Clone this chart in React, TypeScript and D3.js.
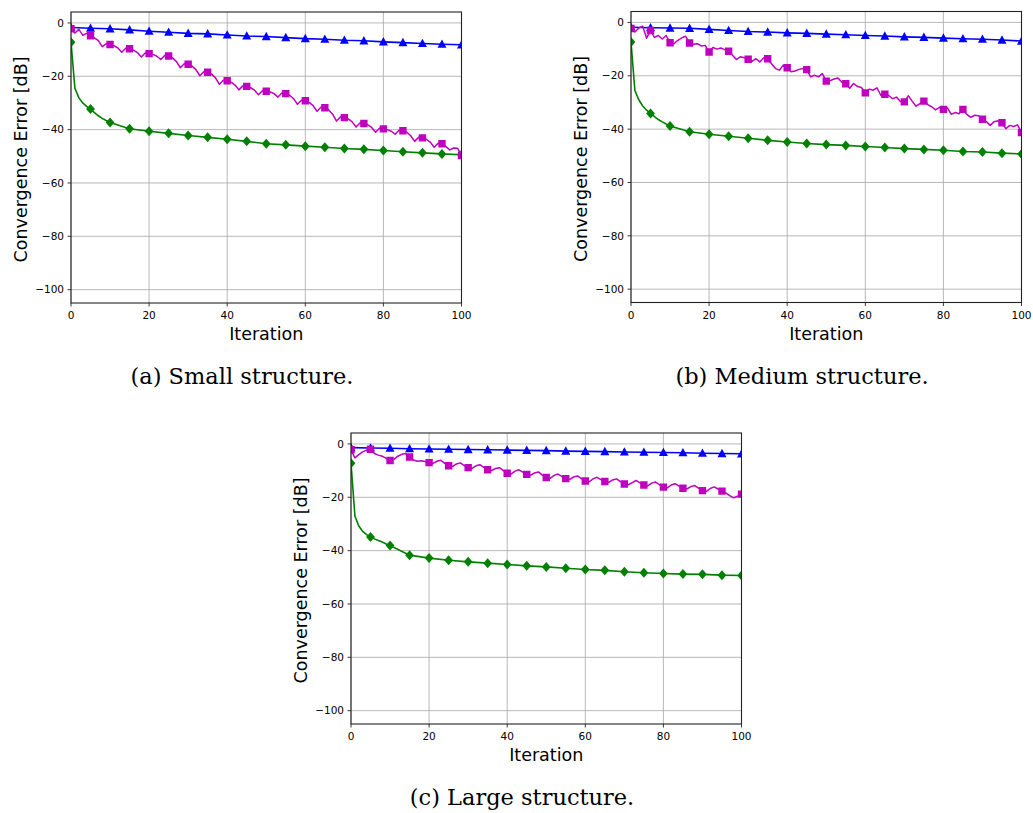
import React from 'react';
import * as d3 from 'd3';

// ---------- data ----------
const xTicks = [0, 20, 40, 60, 80, 100];
const yTicks = [-100, -80, -60, -40, -20, 0];
const markerIters = d3.range(0, 101, 5);
const lineIters = d3.range(0, 101);
const headIters = d3.range(0, 11);

// blue (triangles) – values at iterations 0,5,...,100
const blueA = [-1.7, -2.0, -2.2, -2.6, -3.1, -3.5, -3.9, -4.1, -4.5, -4.9, -5.1, -5.5, -5.9, -6.1, -6.5, -6.7, -7.1, -7.4, -7.7, -8.0, -8.2];
const blueB = [-1.8, -2.0, -2.1, -2.2, -2.6, -3.0, -3.4, -3.6, -3.9, -4.1, -4.4, -4.6, -4.9, -5.1, -5.4, -5.6, -5.9, -6.1, -6.3, -6.6, -7.0];
const blueC = [-1.4, -1.5, -1.6, -1.8, -1.9, -2.0, -2.1, -2.2, -2.3, -2.4, -2.5, -2.7, -2.8, -2.9, -3.0, -3.1, -3.2, -3.3, -3.5, -3.6, -3.7];

// green (diamonds) – values at iterations 0,5,...,100
const greenA = [-7.2, -32.3, -37.3, -39.7, -40.6, -41.4, -42.2, -42.9, -43.6, -44.4, -45.3, -45.7, -46.2, -46.6, -47.1, -47.4, -47.8, -48.3, -48.7, -49.1, -49.4];
const greenB = [-7.3, -34.1, -38.8, -41.0, -41.9, -42.7, -43.4, -44.2, -44.8, -45.4, -45.8, -46.1, -46.5, -46.9, -47.3, -47.6, -47.9, -48.4, -48.6, -49.0, -49.3];
const greenC = [-7.2, -34.9, -38.1, -41.7, -42.8, -43.6, -44.2, -44.7, -45.2, -45.7, -46.1, -46.6, -47.1, -47.4, -47.9, -48.3, -48.6, -48.8, -48.9, -49.2, -49.3];
// green line, iterations 0..10
const greenHeadA = [-7.2, -24.5, -28.0, -30.0, -31.3, -32.3, -33.6, -34.8, -35.8, -36.6, -37.3];
const greenHeadB = [-7.3, -25.5, -29.0, -31.3, -32.9, -34.1, -35.3, -36.4, -37.3, -38.1, -38.8];
const greenHeadC = [-7.2, -27.0, -30.8, -32.8, -34.0, -34.9, -35.6, -36.2, -36.8, -37.5, -38.1];

// magenta (squares) – values at every iteration 0..100
const magentaA = [
  -2.2, -3.8, -2.4, -4.6, -3.9, -4.8, -5.6, -6.6, -8.9, -7.8, -8.1,
  -8.5, -9.4, -11.0, -9.5, -9.7, -10.2, -11.1, -12.8, -11.3, -11.5,
  -11.8, -12.5, -13.7, -12.2, -12.4, -13.1, -14.5, -16.8, -15.3, -15.5,
  -16.2, -17.5, -19.8, -18.3, -18.5, -19.2, -20.6, -23.0, -21.5, -21.7,
  -22.2, -23.3, -25.1, -23.6, -23.8, -24.3, -25.2, -26.9, -25.4, -25.6,
  -25.9, -26.5, -27.8, -26.3, -26.5, -27.1, -28.4, -30.5, -29.0, -29.2,
  -29.8, -31.0, -33.1, -31.6, -31.8, -32.6, -34.2, -36.8, -35.3, -35.5,
  -36.0, -37.1, -39.0, -37.5, -37.7, -38.2, -39.2, -41.0, -39.5, -39.7,
  -40.0, -40.6, -41.7, -40.2, -40.4, -41.0, -42.3, -44.4, -42.9, -43.1,
  -43.6, -44.7, -46.6, -45.1, -45.3, -46.4, -47.6, -46.9, -47.0, -49.7,
];
const magentaB = [
  -2.3, -3.6, -2.1, -1.4, -5.9, -3.0, -5.6, -4.9, -6.2, -4.9, -7.6,
  -8.0, -6.7, -5.8, -5.2, -7.7, -8.2, -8.0, -8.8, -8.6, -11.1,
  -9.4, -10.0, -9.6, -10.2, -10.8, -12.3, -13.9, -12.9, -13.2, -13.8,
  -14.6, -13.6, -14.8, -13.2, -13.6, -15.5, -17.3, -17.9, -16.0, -17.0,
  -18.5, -18.2, -17.6, -17.3, -17.7, -20.4, -19.8, -20.4, -19.2, -22.0,
  -21.8, -21.2, -20.8, -22.4, -23.0, -24.7, -22.9, -24.0, -24.4, -26.4,
  -25.0, -25.4, -24.5, -27.4, -26.9, -27.4, -28.6, -28.0, -29.6, -29.8,
  -27.5, -29.5, -31.4, -30.4, -29.5, -30.8, -31.6, -32.8, -31.8, -32.6,
  -32.0, -34.4, -33.8, -34.2, -32.6, -34.5, -35.6, -34.8, -35.0, -36.3,
  -37.2, -38.6, -37.2, -36.9, -37.6, -39.8, -38.6, -39.0, -38.4, -41.3,
];
const magentaC = [
  -2.2, -5.2, -4.0, -3.0, -2.3, -2.0, -3.6, -4.2, -4.6, -5.4, -6.2,
  -5.8, -4.6, -3.9, -3.6, -4.9, -6.0, -6.5, -6.3, -6.6, -7.0,
  -7.3, -6.5, -6.1, -7.3, -8.2, -8.5, -7.5, -7.1, -8.1, -8.9,
  -9.2, -8.2, -7.8, -8.8, -9.7, -10.0, -9.2, -8.9, -10.0, -11.0,
  -11.3, -10.2, -9.7, -10.6, -11.4, -11.7, -10.9, -10.5, -11.7, -12.6,
  -12.9, -11.8, -11.3, -12.2, -13.0, -13.3, -12.4, -12.0, -13.0, -13.9,
  -14.2, -13.1, -12.5, -13.4, -14.1, -14.4, -13.5, -13.1, -14.1, -15.0,
  -15.3, -14.5, -13.7, -14.6, -15.4, -15.7, -14.7, -14.3, -15.3, -16.2,
  -16.5, -15.4, -14.9, -15.8, -16.6, -16.9, -16.0, -15.6, -16.6, -17.5,
  -17.8, -16.7, -16.1, -16.9, -17.7, -18.4, -19.4, -20.2, -19.6, -18.8,
];

const captions = ['(a) Small structure.', '(b) Medium structure.', '(c) Large structure.'];

// ---------- layout ----------
const W = 390.5;
const H = 291;
const LEFT = 71;
const TOP = 12;

const BLUE = '#0000ff';
const MAGENTA = '#bf00bf';
const GREEN = '#008000';

type PanelProps = {
  id: string;
  ox: number;
  oy: number;
  caption: string;
  blue: number[];
  green: number[];
  greenHead: number[];
  magenta: number[];
};

const x = d3.scaleLinear().domain([0, 100]).range([0, W]);
const y = d3.scaleLinear().domain([-105, 4.1]).range([H, 0]);

const line = d3
  .line<[number, number]>()
  .x((d) => x(d[0]))
  .y((d) => y(d[1]));

const tri = 'M0,-4.8L4.5,3.6L-4.5,3.6Z';
const sq = 'M-3.7,-3.7H3.7V3.7H-3.7Z';
const dia = 'M0,-5L4.4,0L0,5L-4.4,0Z';

function Panel(p: PanelProps) {
  const left = LEFT + p.ox;
  const top = TOP + p.oy;
  const bluePts: [number, number][] = markerIters.map((it, i) => [it, p.blue[i]]);
  const greenMk: [number, number][] = markerIters.map((it, i) => [it, p.green[i]]);
  const greenLine: [number, number][] = [
    ...headIters.map((it, i) => [it, p.greenHead[i]] as [number, number]),
    ...greenMk.filter((d) => d[0] > 10),
  ];
  const magPts: [number, number][] = lineIters.map((it, i) => [it, p.magenta[i]]);
  const magMk = magPts.filter((d) => d[0] % 5 === 0);
  const clipId = `clip-${p.id}`;
  const font = "'DejaVu Sans', sans-serif";
  return (
    <g>
      <g transform={`translate(${left},${top})`}>
        <defs>
          <clipPath id={clipId}>
            <rect x={0} y={0} width={W} height={H} />
          </clipPath>
        </defs>
        <rect x={0} y={0} width={W} height={H} fill="#fff" />
        {/* grid */}
        {xTicks.map((t) => (
          <line key={'gx' + t} x1={x(t)} x2={x(t)} y1={0} y2={H} stroke="#b0b0b0" strokeWidth={0.9} />
        ))}
        {yTicks.map((t) => (
          <line key={'gy' + t} x1={0} x2={W} y1={y(t)} y2={y(t)} stroke="#b0b0b0" strokeWidth={0.9} />
        ))}
        <g clipPath={`url(#${clipId})`}>
          <path d={line(greenLine) || ''} fill="none" stroke={GREEN} strokeWidth={1.6} />
          {greenMk.map((d, i) => (
            <path key={'gm' + i} d={dia} transform={`translate(${x(d[0])},${y(d[1])})`} fill={GREEN} />
          ))}
          <path d={line(bluePts) || ''} fill="none" stroke={BLUE} strokeWidth={1.6} />
          {bluePts.map((d, i) => (
            <path key={'bm' + i} d={tri} transform={`translate(${x(d[0])},${y(d[1])})`} fill={BLUE} />
          ))}
          <path d={line(magPts) || ''} fill="none" stroke={MAGENTA} strokeWidth={1.5} strokeLinejoin="round" />
          {magMk.map((d, i) => (
            <path key={'mm' + i} d={sq} transform={`translate(${x(d[0])},${y(d[1])})`} fill={MAGENTA} />
          ))}
        </g>
        {/* spines */}
        <rect x={0} y={0} width={W} height={H} fill="none" stroke="#222" strokeWidth={1.1} />
        {/* x ticks */}
        {xTicks.map((t) => (
          <g key={'xt' + t} transform={`translate(${x(t)},${H})`}>
            <line y1={0} y2={3.5} stroke="#222" strokeWidth={0.9} />
            <text y={16} textAnchor="middle" fontFamily={font} fontSize={10.5} fill="#000">
              {t}
            </text>
          </g>
        ))}
        {/* y ticks */}
        {yTicks.map((t) => (
          <g key={'yt' + t} transform={`translate(0,${y(t)})`}>
            <line x1={0} x2={-3.5} stroke="#222" strokeWidth={0.9} />
            <text x={-7} dy="0.35em" textAnchor="end" fontFamily={font} fontSize={10.5} fill="#000">
              {t < 0 ? '\u2212' + Math.abs(t) : String(t)}
            </text>
          </g>
        ))}
        <text x={W / 2} y={H + 37} textAnchor="middle" fontFamily={font} fontSize={17.5} fill="#000">
          Iteration
        </text>
        <text
          transform={`translate(${-44},${H / 2 + 2}) rotate(-90)`}
          textAnchor="middle"
          fontFamily={font}
          fontSize={17.5}
          fill="#000"
        >
          Convergence Error [dB]
        </text>
      </g>
      <text
        x={242 + p.ox}
        y={384 + p.oy}
        textAnchor="middle"
        fontFamily="'DejaVu Serif', serif"
        fontSize={22.5}
        fill="#000"
      >
        {p.caption}
      </text>
    </g>
  );
}

export default function App() {
  return (
    <svg
      width={1033}
      height={813}
      viewBox="0 0 1033 813"
      style={{ position: 'absolute', left: 0, top: 0, background: '#fff' }}
    >
      <rect x={0} y={0} width={1033} height={813} fill="#fff" />
      <Panel id="a" ox={0} oy={0} caption={captions[0]} blue={blueA} green={greenA} greenHead={greenHeadA} magenta={magentaA} />
      <Panel id="b" ox={560} oy={-0.5} caption={captions[1]} blue={blueB} green={greenB} greenHead={greenHeadB} magenta={magentaB} />
      <Panel id="c" ox={280} oy={421} caption={captions[2]} blue={blueC} green={greenC} greenHead={greenHeadC} magenta={magentaC} />
    </svg>
  );
}
